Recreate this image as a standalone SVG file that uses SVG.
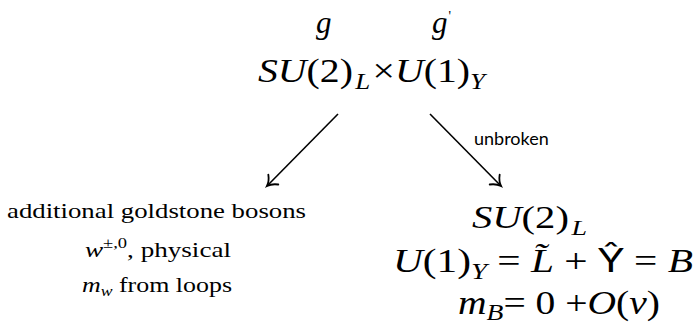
<svg xmlns="http://www.w3.org/2000/svg" width="697" height="327" viewBox="0 0 697 327">
<defs>
<marker id="ah" markerWidth="16" markerHeight="16" refX="10" refY="8" orient="auto" markerUnits="userSpaceOnUse" viewBox="0 0 16 16">
<path d="M1,1 C4,5 7,7 10,8 C7,9 4,11 1,15" fill="none" stroke="#000" stroke-width="1.8" stroke-linecap="round"/>
</marker>
</defs>
<g id="top">
<text x="316" y="33" font-size="31" font-style="italic" font-family="'Liberation Serif', serif">g</text>
<text x="432" y="33" font-size="31" font-style="italic" font-family="'Liberation Serif', serif">g<tspan font-size="14" dy="-12" dx="1" font-style="normal">'</tspan></text>
<text x="258" y="82" font-size="34" font-family="'Liberation Serif', serif" textLength="227" lengthAdjust="spacingAndGlyphs"><tspan font-style="italic">SU</tspan>(2)<tspan font-style="italic" font-size="23" dy="7" dx="2">L</tspan><tspan dy="-7" dx="2">&#215;</tspan><tspan font-style="italic">U</tspan>(1)<tspan font-style="italic" font-size="23" dy="7">Y</tspan></text>
</g>
<g id="left">
<text x="7" y="218" font-size="22" font-family="'Liberation Serif', serif" textLength="299" lengthAdjust="spacingAndGlyphs">additional goldstone bosons</text>
<text x="85" y="257" font-size="22" font-family="'Liberation Serif', serif" textLength="146" lengthAdjust="spacingAndGlyphs"><tspan font-style="italic">w</tspan><tspan font-size="15" dy="-9">&#177;,0</tspan><tspan dy="9">, physical</tspan></text>
<text x="82" y="292" font-size="22" font-family="'Liberation Serif', serif" textLength="150" lengthAdjust="spacingAndGlyphs"><tspan font-style="italic">m</tspan><tspan font-style="italic" font-size="15" dy="4">w</tspan><tspan dy="-4"> from loops</tspan></text>
</g>
<g id="right">
<text x="472" y="228" font-size="32" font-family="'Liberation Serif', serif" textLength="115" lengthAdjust="spacingAndGlyphs"><tspan font-style="italic">SU</tspan>(2)<tspan font-style="italic" font-size="22" dy="7" dx="2">L</tspan></text>
<text x="393" y="272" font-size="33" font-family="'Liberation Serif', serif" textLength="300" lengthAdjust="spacingAndGlyphs"><tspan font-style="italic">U</tspan>(1)<tspan font-style="italic" font-size="23" dy="7">Y</tspan><tspan dy="-7"> = </tspan><tspan font-style="italic">L&#771;</tspan> + <tspan font-family="'Lato', sans-serif">&#374;</tspan> = <tspan font-style="italic">B</tspan></text>
<text x="458" y="314" font-size="33" font-family="'Liberation Serif', serif" textLength="202" lengthAdjust="spacingAndGlyphs"><tspan font-style="italic">m</tspan><tspan font-style="italic" font-size="23" dy="6">B</tspan><tspan dy="-6">= 0 +</tspan><tspan font-style="italic">O</tspan>(<tspan font-style="italic">v</tspan>)</text>
</g>
<g id="connectors">
<line x1="338" y1="114" x2="267" y2="186" stroke="#000" stroke-width="1.6" marker-end="url(#ah)"/>
<line x1="430" y1="114" x2="501" y2="186" stroke="#000" stroke-width="1.6" marker-end="url(#ah)"/>
<text x="474" y="145" font-size="18" font-family="'Lato', sans-serif" fill="#000">unbroken</text>
</g>
</svg>
